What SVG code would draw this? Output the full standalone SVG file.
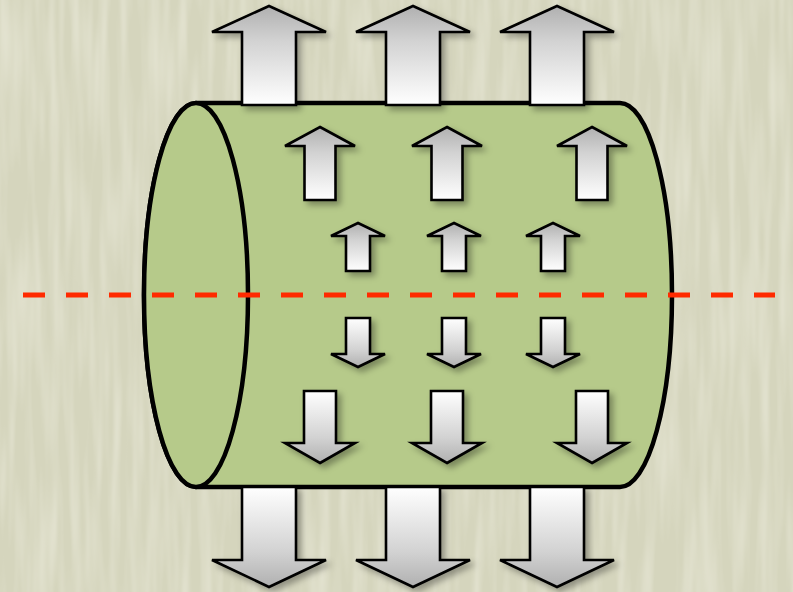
<svg xmlns="http://www.w3.org/2000/svg" xmlns:xlink="http://www.w3.org/1999/xlink" width="793" height="592" viewBox="0 0 793 592">
  <defs>
    <style>
      .body { fill: #b6ca8a; stroke: #000; stroke-width: 4.5; stroke-linejoin: round; }
      .up { fill: url(#gUp); stroke: #000; stroke-width: 2.6; stroke-linejoin: miter; filter: url(#shadow); }
      .down { fill: url(#gDown); stroke: #000; stroke-width: 2.6; stroke-linejoin: miter; filter: url(#shadow); }
      .axis { stroke: #ff2a00; stroke-width: 5; stroke-dasharray: 22 21; fill: none; }
    </style>
    <linearGradient id="gUp" x1="0" y1="0" x2="0" y2="1">
      <stop offset="0" stop-color="#b0b0b0"/>
      <stop offset="0.35" stop-color="#d2d2d2"/>
      <stop offset="1" stop-color="#ffffff"/>
    </linearGradient>
    <linearGradient id="gDown" x1="0" y1="1" x2="0" y2="0">
      <stop offset="0" stop-color="#b0b0b0"/>
      <stop offset="0.35" stop-color="#d2d2d2"/>
      <stop offset="1" stop-color="#ffffff"/>
    </linearGradient>
    <filter id="shadow" x="-30%" y="-30%" width="160%" height="160%">
      <feDropShadow dx="4" dy="4" stdDeviation="3" flood-color="#000" flood-opacity="0.33"/>
    </filter>
    <filter id="grain" x="0" y="0" width="100%" height="100%">
      <feTurbulence type="fractalNoise" baseFrequency="0.1 0.008" numOctaves="2" seed="5"/>
      <feColorMatrix type="matrix" values="0 0 0 0 0.95  0 0 0 0 0.94  0 0 0 0 0.86  0.7 0 0 0 -0.25"/>
    </filter>
    <!-- arrow outlines, tip at the origin -->
    <path id="bigUp" d="M0,0 L57,26 L27,26 L27,99 L-27,99 L-27,26 L-57,26 Z"/>
    <path id="bigDown" d="M0,0 L57,-27 L27,-27 L27,-100 L-27,-100 L-27,-27 L-57,-27 Z"/>
    <path id="midUp" d="M0,0 L35,19 L15.5,19 L15.5,73 L-15.5,73 L-15.5,19 L-35,19 Z"/>
    <path id="midDown" d="M0,0 L35,-20 L16,-20 L16,-72 L-16,-72 L-16,-20 L-35,-20 Z"/>
    <path id="smallUp" d="M0,0 L27,13 L12,13 L12,48 L-12,48 L-12,13 L-27,13 Z"/>
    <path id="smallDown" d="M0,0 L27,-13 L12,-13 L12,-49 L-12,-49 L-12,-13 L-27,-13 Z"/>
  </defs>

  <!-- textured paper background -->
  <rect width="793" height="592" fill="#d5d5bd"/>
  <rect width="793" height="592" filter="url(#grain)"/>

  <!-- cylinder -->
  <g id="cylinder">
    <path class="body" d="M196,103 L620,103 A52,192 0 0 1 620,487 L196,487 A52,192 0 0 1 196,103 Z"/>
    <ellipse class="body" cx="196" cy="295" rx="52" ry="192"/>
  </g>

  <!-- arrows inside the cylinder -->
  <g id="inner-up-mid">
    <use xlink:href="#midUp" class="up" x="320" y="127"/>
    <use xlink:href="#midUp" class="up" x="447" y="127"/>
    <use xlink:href="#midUp" class="up" x="592" y="127"/>
  </g>
  <g id="inner-up-small">
    <use xlink:href="#smallUp" class="up" x="358" y="223"/>
    <use xlink:href="#smallUp" class="up" x="454" y="223"/>
    <use xlink:href="#smallUp" class="up" x="553" y="223"/>
  </g>
  <g id="inner-down-small">
    <use xlink:href="#smallDown" class="down" x="358" y="367"/>
    <use xlink:href="#smallDown" class="down" x="454" y="367"/>
    <use xlink:href="#smallDown" class="down" x="553" y="367"/>
  </g>
  <g id="inner-down-mid">
    <use xlink:href="#midDown" class="down" x="320" y="463"/>
    <use xlink:href="#midDown" class="down" x="447" y="463"/>
    <use xlink:href="#midDown" class="down" x="592" y="463"/>
  </g>

  <!-- outer arrows leaving the cylinder -->
  <g id="outer-up">
    <use xlink:href="#bigUp" class="up" x="269" y="6"/>
    <use xlink:href="#bigUp" class="up" x="413" y="6"/>
    <use xlink:href="#bigUp" class="up" x="557" y="6"/>
  </g>
  <g id="outer-down">
    <use xlink:href="#bigDown" class="down" x="269" y="587"/>
    <use xlink:href="#bigDown" class="down" x="413" y="587"/>
    <use xlink:href="#bigDown" class="down" x="557" y="587"/>
  </g>

  <!-- neutral axis -->
  <g id="connectors">
    <line class="axis" x1="23" y1="295" x2="775" y2="295"/>
  </g>
</svg>
